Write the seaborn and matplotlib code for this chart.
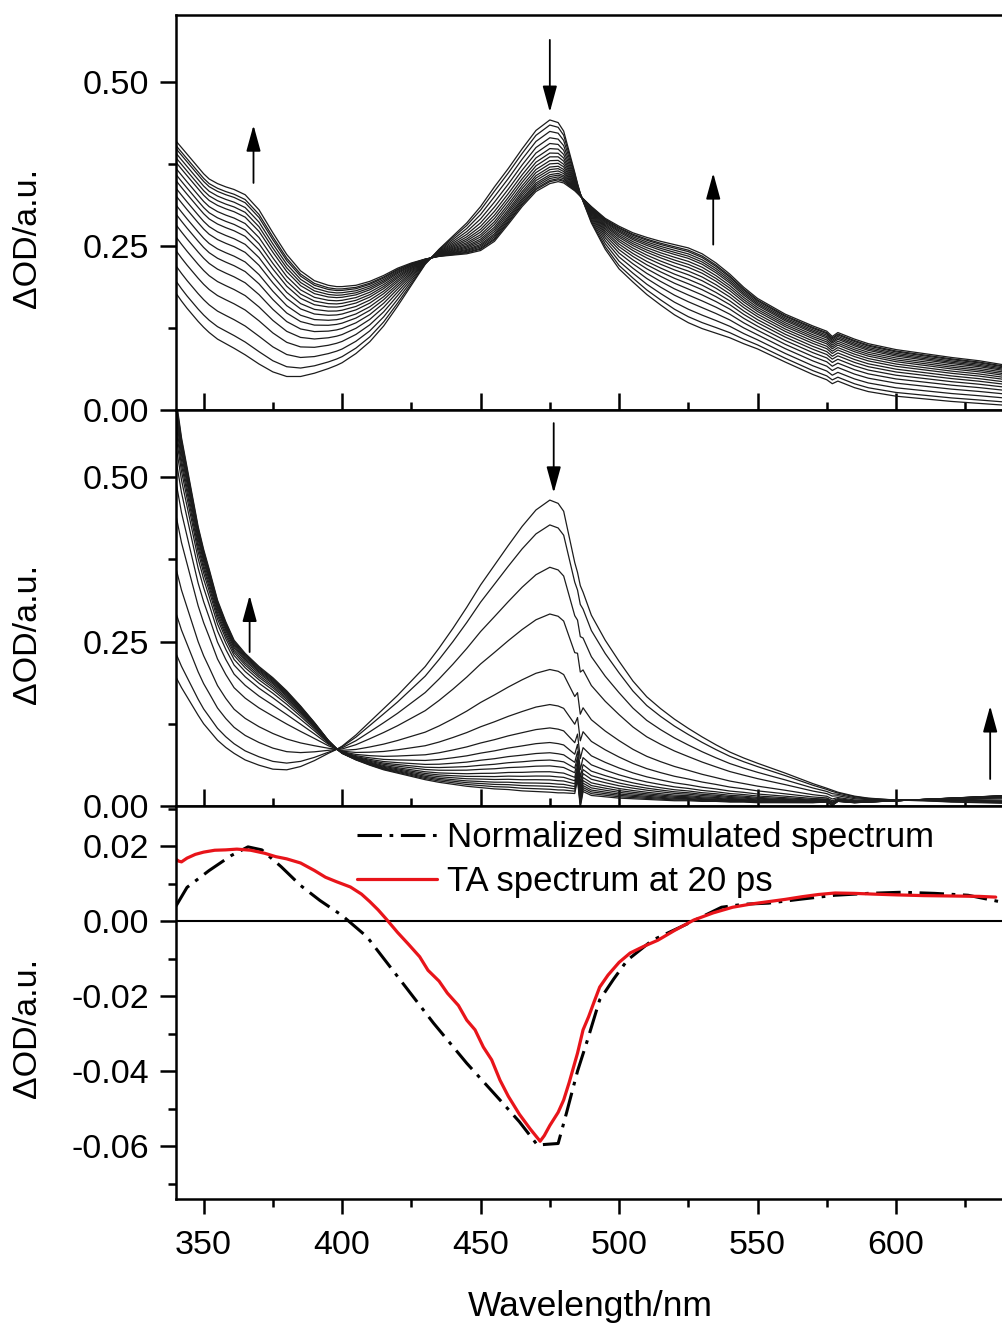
import numpy as np
import pandas as pd
import matplotlib
matplotlib.use('Agg')
import matplotlib.pyplot as plt
from matplotlib.ticker import MultipleLocator
import seaborn as sns

# common wavelength grid (nm) for the two time-resolved panels
wavelength = [340, 342, 344, 346, 348, 350, 352, 355, 358, 361,
              365, 370, 375, 380, 385, 390, 395, 398, 400, 405,
              410, 415, 420, 425, 430, 435, 440, 445, 450, 455,
              460, 465, 470, 475, 478, 480, 484, 485, 486, 487,
              490, 495, 500, 505, 510, 515, 520, 525, 530, 535,
              540, 545, 550, 560, 570, 575, 577, 579, 585, 590,
              600, 610, 620, 630, 640, 650]

# top panel: earliest and latest spectra
top_first = [0.178, 0.166, 0.155, 0.145, 0.135, 0.126, 0.118, 0.108, 0.101, 0.094,
             0.084, 0.070, 0.058, 0.051, 0.051, 0.056, 0.063, 0.068, 0.072, 0.086,
             0.104, 0.128, 0.158, 0.190, 0.222, 0.245, 0.265, 0.285, 0.310, 0.340,
             0.368, 0.398, 0.426, 0.442, 0.438, 0.425, 0.362, 0.345, 0.330, 0.318,
             0.285, 0.245, 0.215, 0.195, 0.176, 0.160, 0.145, 0.133, 0.124, 0.117,
             0.110, 0.101, 0.093, 0.073, 0.054, 0.046, 0.040, 0.044, 0.034, 0.028,
             0.021, 0.017, 0.013, 0.010, 0.007, 0.005]
top_last = [0.410, 0.400, 0.390, 0.380, 0.370, 0.360, 0.352, 0.345, 0.340, 0.336,
            0.328, 0.305, 0.270, 0.237, 0.212, 0.197, 0.190, 0.188, 0.188, 0.190,
            0.196, 0.205, 0.216, 0.224, 0.230, 0.234, 0.236, 0.238, 0.243, 0.257,
            0.283, 0.310, 0.333, 0.345, 0.348, 0.346, 0.334, 0.330, 0.326, 0.322,
            0.310, 0.292, 0.280, 0.270, 0.263, 0.257, 0.252, 0.247, 0.238, 0.224,
            0.207, 0.187, 0.170, 0.146, 0.128, 0.120, 0.112, 0.118, 0.108, 0.101,
            0.092, 0.086, 0.080, 0.075, 0.068, 0.060]
top_progress = [0, 0.08, 0.18, 0.28, 0.37, 0.45, 0.52, 0.58, 0.64, 0.69,
                0.74, 0.78, 0.82, 0.86, 0.89, 0.92, 0.95, 0.97, 1.0]

# middle panel: earliest and latest spectra
mid_first = [0.196, 0.180, 0.166, 0.152, 0.138, 0.125, 0.115, 0.100, 0.089, 0.080,
             0.070, 0.062, 0.056, 0.055, 0.060, 0.069, 0.080, 0.086, 0.091, 0.108,
             0.128, 0.148, 0.168, 0.190, 0.212, 0.240, 0.270, 0.302, 0.336, 0.366,
             0.396, 0.425, 0.450, 0.465, 0.460, 0.448, 0.370, 0.355, 0.335, 0.325,
             0.290, 0.252, 0.220, 0.190, 0.166, 0.148, 0.132, 0.118, 0.105, 0.093,
             0.082, 0.073, 0.065, 0.050, 0.034, 0.027, 0.024, 0.021, 0.015, 0.012,
             0.009, 0.008, 0.006, 0.005, 0.004, 0.004]
mid_last = [0.620, 0.560, 0.515, 0.470, 0.425, 0.390, 0.360, 0.313, 0.280, 0.252,
            0.232, 0.212, 0.195, 0.175, 0.152, 0.127, 0.100, 0.087, 0.080, 0.070,
            0.062, 0.055, 0.050, 0.045, 0.040, 0.036, 0.033, 0.030, 0.028, 0.026,
            0.025, 0.023, 0.022, 0.021, 0.020, 0.020, 0.019, 0.040, -0.002, 0.022,
            0.016, 0.014, 0.012, 0.011, 0.010, 0.009, 0.008, 0.008, 0.007, 0.007,
            0.006, 0.006, 0.005, 0.005, 0.005, 0.006, 0.001, 0.007, 0.005, 0.006,
            0.008, 0.010, 0.012, 0.014, 0.016, 0.017]
mid_progress = [0, 0.085, 0.23, 0.39, 0.58, 0.70, 0.78, 0.83, 0.865, 0.89,
                0.91, 0.93, 0.945, 0.958, 0.97, 0.98, 0.99, 1.0]

# bottom panel
ta_wl = [340, 341, 342, 344, 347, 350, 354, 358, 362, 367,
         372, 376, 380, 385, 390, 394, 398, 403, 407, 410,
         413, 416, 420, 424, 428, 431, 435, 438, 442, 445,
         448, 451, 454, 457, 460, 464, 468, 471.5, 473, 475,
         478, 480, 482, 485, 487, 489, 491, 493, 496, 500,
         504, 509, 514, 520, 527, 534, 541, 548, 554, 560,
         566, 572, 578, 585, 592, 600, 610, 620, 630, 636]
ta_20ps = [0.0165, 0.0160, 0.0158, 0.0168, 0.0178, 0.0184, 0.0189, 0.0190, 0.0192, 0.0189,
           0.0181, 0.0172, 0.0166, 0.0155, 0.0135, 0.0117, 0.0105, 0.0091, 0.0072, 0.0052,
           0.0030, 0.0005, -0.0030, -0.0062, -0.0095, -0.0131, -0.0160, -0.0192, -0.0225, -0.0264,
           -0.0290, -0.0336, -0.0370, -0.0424, -0.0467, -0.0515, -0.0555, -0.0587, -0.0572, -0.0545,
           -0.0510, -0.0477, -0.0430, -0.0352, -0.0290, -0.0255, -0.0215, -0.0176, -0.0144, -0.0110,
           -0.0085, -0.0067, -0.0051, -0.0025, 0.0003, 0.0022, 0.0037, 0.0046, 0.0052, 0.0058,
           0.0065, 0.0071, 0.0075, 0.0074, 0.0072, 0.0070, 0.0068, 0.0067, 0.0066, 0.0064]
sim_wl = [340, 344, 352, 360, 366, 371, 378, 385, 392, 400,
          409, 421, 433, 445, 457, 464, 470.5, 478, 481, 485,
          488.6, 493, 498, 503, 512, 525, 537, 545, 554, 565,
          578, 590, 602, 614, 626, 638, 645]
sim_norm = [0.0040, 0.0090, 0.0135, 0.0175, 0.0198, 0.0190, 0.0145, 0.0095, 0.0055, 0.0015,
            -0.0042, -0.0157, -0.0272, -0.0379, -0.0477, -0.0535, -0.0597, -0.0593, -0.0512, -0.0400,
            -0.0317, -0.0210, -0.0155, -0.0104, -0.0051, -0.0006, 0.0037, 0.0045, 0.0048, 0.0058,
            0.0069, 0.0074, 0.0077, 0.0074, 0.0069, 0.0051, 0.0040]


def family_frame(first, last, progress):
    parts = []
    for i, f in enumerate(progress):
        od = (1 - f) * np.array(first) + f * np.array(last)
        parts.append(pd.DataFrame({'wl': wavelength, 'od': od, 'curve': i}))
    return pd.concat(parts, ignore_index=True)


sns.set_style('ticks')
plt.rcParams['font.family'] = ['Liberation Sans', 'DejaVu Sans']
plt.rcParams['axes.unicode_minus'] = False
plt.rcParams['axes.linewidth'] = 1.8
for key in ('text.color', 'axes.labelcolor', 'xtick.color', 'ytick.color',
            'axes.edgecolor'):
    plt.rcParams[key] = 'black'

fig = plt.figure(figsize=(10.02, 13.25), dpi=100)
left, width = 0.1756, 0.843
ax_top = fig.add_axes([left, 0.6906, width, 0.2981])
ax_mid = fig.add_axes([left, 0.3917, width, 0.2989])
ax_bot = fig.add_axes([left, 0.0951, width, 0.2966])

tick_fs = 24.5
label_fs = 24.5

for ax, first, last, prog in [(ax_top, top_first, top_last, top_progress),
                              (ax_mid, mid_first, mid_last, mid_progress)]:
    df = family_frame(first, last, prog)
    sns.lineplot(data=df, x='wl', y='od', units='curve', estimator=None,
                 color='#1c1c1c', lw=0.9, ax=ax, legend=False)
    ax.set_ylim(0, 0.602)
    ax.yaxis.set_major_locator(MultipleLocator(0.25))
    ax.yaxis.set_minor_locator(MultipleLocator(0.125))
    ax.tick_params(axis='x', which='both', direction='in', labelbottom=False,
                   width=1.8)
    ax.tick_params(axis='x', which='major', length=12)
    ax.tick_params(axis='x', which='minor', length=6)

# bottom panel
ax_bot.axhline(0, color='k', lw=1.5)
sns.lineplot(x=sim_wl, y=sim_norm, ax=ax_bot, color='k', lw=2.2,
             linestyle=(0, (8, 2.5, 1.2, 2.5)), label='Normalized simulated spectrum')
sns.lineplot(x=ta_wl, y=ta_20ps, ax=ax_bot, color='#e8141a', lw=2.3,
             label='TA spectrum at 20 ps', sort=False)
ax_bot.set_ylim(-0.0741, 0.0307)
ax_bot.yaxis.set_major_locator(MultipleLocator(0.02))
ax_bot.yaxis.set_minor_locator(MultipleLocator(0.01))
ax_bot.tick_params(axis='x', which='both', direction='out', width=1.8,
                   labelsize=tick_fs, pad=11)
ax_bot.tick_params(axis='x', which='major', length=11)
ax_bot.tick_params(axis='x', which='minor', length=6)
ax_bot.set_xlabel('Wavelength/nm', fontsize=25.5)
ax_bot.xaxis.set_label_coords(0.491, -0.232)
ax_bot.legend(loc='upper left', bbox_to_anchor=(0.214, 0.962), frameon=False,
              fontsize=25, handlelength=2.3, handletextpad=0.3,
              labelspacing=0.33, borderpad=0, borderaxespad=0)

for ax in (ax_top, ax_mid, ax_bot):
    ax.set_xlim(340, 645)
    ax.xaxis.set_major_locator(MultipleLocator(50))
    ax.xaxis.set_minor_locator(MultipleLocator(25))
    ax.yaxis.set_major_formatter(plt.FormatStrFormatter('%.2f'))
    ax.tick_params(axis='y', which='both', direction='out', width=1.8,
                   labelsize=tick_fs, pad=8)
    ax.tick_params(axis='y', which='major', length=11.5)
    ax.tick_params(axis='y', which='minor', length=6)
    ax.set_ylabel('ΔOD/a.u.', fontsize=label_fs)
    ax.yaxis.set_label_coords(-0.157, 0.435)
    if ax is not ax_bot:
        ax.set_xlabel('')
    for s in ax.spines.values():
        s.set_linewidth(1.8)
        s.set_color('k')

arrow = dict(arrowstyle='-|>,head_length=0.8,head_width=0.22', color='k',
             lw=1.3, mutation_scale=20, shrinkA=0, shrinkB=0)
# top panel arrows
ax_top.annotate('', xy=(368, 0.434), xytext=(368, 0.346), arrowprops=arrow)
ax_top.annotate('', xy=(475, 0.454), xytext=(475, 0.564), arrowprops=arrow)
ax_top.annotate('', xy=(534, 0.361), xytext=(534, 0.252), arrowprops=arrow)
# middle panel arrows
ax_mid.annotate('', xy=(366.6, 0.320), xytext=(366.6, 0.234), arrowprops=arrow)
ax_mid.annotate('', xy=(476.4, 0.476), xytext=(476.4, 0.582), arrowprops=arrow)
ax_mid.annotate('', xy=(634, 0.152), xytext=(634, 0.041), arrowprops=arrow)

fig.savefig('out.png', dpi=100)
